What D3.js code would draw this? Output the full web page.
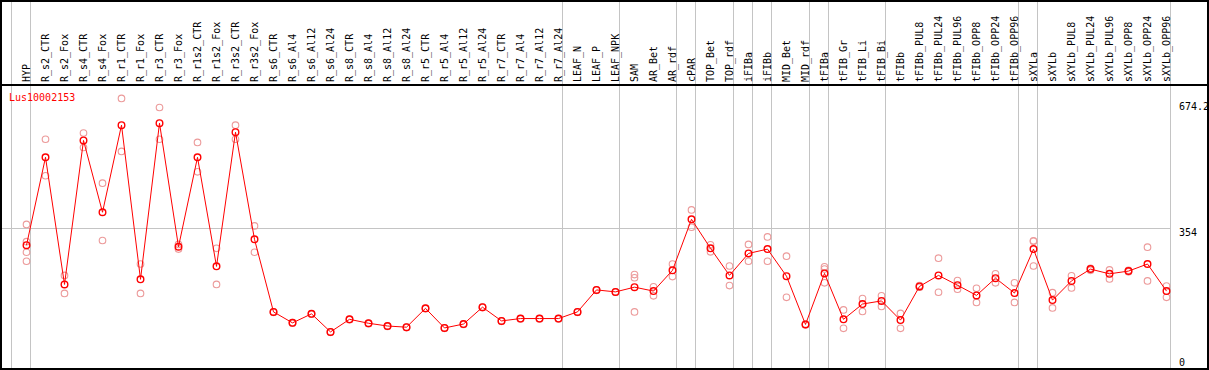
<!DOCTYPE html>
<html>
<head>
<meta charset="utf-8">
<script src="https://cdn.jsdelivr.net/npm/d3@7/dist/d3.min.js"></script>
<style>
  body { margin: 0; background: #fff; }
  text { font-family: "DejaVu Sans Mono", monospace; font-size: 10px; }
</style>
</head>
<body>
<div id="vis"></div>
<script>
//-- Data
var title = "Lus10002153";

var categories = ["HYP", "R_s2_CTR", "R_s2_Fox", "R_s4_CTR", "R_s4_Fox", "R_r1_CTR", "R_r1_Fox",
  "R_r3_CTR", "R_r3_Fox", "R_r1s2_CTR", "R_r1s2_Fox", "R_r3s2_CTR", "R_r3s2_Fox",
  "R_s6_CTR", "R_s6_Al4", "R_s6_Al12", "R_s6_Al24", "R_s8_CTR", "R_s8_Al4", "R_s8_Al12", "R_s8_Al24",
  "R_r5_CTR", "R_r5_Al4", "R_r5_Al12", "R_r5_Al24", "R_r7_CTR", "R_r7_Al4", "R_r7_Al12", "R_r7_Al24",
  "LEAF_N", "LEAF_P", "LEAF_NPK", "SAM", "AR_Bet", "AR_rdf", "cPAR", "TOP_Bet", "TOP_rdf",
  "iFIBa", "iFIBb", "MID_Bet", "MID_rdf", "tFIBa", "tFIB_Gr", "tFIB_Li", "tFIB_Bi",
  "tFIBb", "tFIBb_PUL8", "tFIBb_PUL24", "tFIBb_PUL96", "tFIBb_OPP8", "tFIBb_OPP24", "tFIBb_OPP96",
  "sXYLa", "sXYLb", "sXYLb_PUL8", "sXYLb_PUL24", "sXYLb_PUL96", "sXYLb_OPP8", "sXYLb_OPP24", "sXYLb_OPP96"];

// mean expression per sample
var means = [311, 535, 211, 578, 395, 617, 224, 622, 307, 535, 257, 599, 326,
  141, 113, 136, 90, 122, 112, 105, 102, 150, 100, 110, 153, 118, 124, 124, 124,
  141, 197, 192, 204, 194, 247, 377, 303, 234, 290, 301, 232, 109, 239, 122, 161, 169,
  120, 206, 234, 209, 183, 227, 189, 301, 171, 220, 250, 238, 245, 263, 194];

// individual replicates
var reps = [[364, 320, 293, 270], [581, 488], [234, 188], [597, 560], [469, 323], [685, 550], [263, 188],
  [662, 581], [313, 301], [573, 498], [303, 211], [617, 581], [360, 293],
  [141, 140], [114, 112], [136, 135], [90, 89], [122, 121], [112, 111], [105, 104], [102, 101],
  [150, 149], [100, 99], [110, 109], [153, 152], [118, 117], [124, 123], [124, 123], [124, 123],
  [141, 140], [197, 196], [192, 191], [236, 228, 141], [205, 182], [263, 231], [401, 357],
  [312, 294], [258, 208], [313, 270], [332, 270], [283, 178], [110, 108], [256, 250, 215],
  [146, 99], [175, 142], [182, 155], [137, 99], [208, 204], [278, 191], [221, 199], [201, 165],
  [238, 215], [215, 165], [321, 258, 322], [190, 151], [233, 202], [252, 247], [248, 225],
  [247, 243], [306, 220], [207, 178]];

var separatorsAfter = ["HYP", "R_r7_Al24", "LEAF_NPK", "AR_rdf", "cPAR", "TOP_rdf", "iFIBa",
  "iFIBb", "MID_rdf", "tFIBa", "tFIB_Bi", "tFIBb_OPP96", "sXYLa", "sXYLb_OPP96"];

var yTicks = [0, 354, 674.2];

//-- Setup
var width = 1209;
var height = 370;
var headerY = 85;

var svg = d3.select("#vis").append("svg")
  .attr("width", width)
  .attr("height", height);

var x = d3.scaleBand().domain(categories).range([11.3, 1170.3]);
var y = d3.scaleLinear().domain([0, 674.2]).range([367.2, 102.7]);

function px(c) { return x(c) + 15.2; }

// group separators (full height)
var sepX = [x(categories[0])].concat(separatorsAfter.map(function (c) { return x(c) + x.bandwidth(); }));
svg.selectAll("line.sep")
  .data(sepX)
  .enter().append("line")
  .attr("class", "sep")
  .attr("x1", function (d) { return Math.floor(d) + 0.5; })
  .attr("x2", function (d) { return Math.floor(d) + 0.5; })
  .attr("y1", 0)
  .attr("y2", height)
  .attr("stroke", "#c4c4c4")
  .attr("stroke-width", 1);

// horizontal grid line at middle tick
svg.append("line")
  .attr("x1", 1).attr("x2", 1170)
  .attr("y1", Math.round(y(yTicks[1])) + 0.5)
  .attr("y2", Math.round(y(yTicks[1])) + 0.5)
  .attr("stroke", "#c4c4c4");

// frame
svg.append("rect")
  .attr("x", 1).attr("y", 1)
  .attr("width", 1207).attr("height", 368)
  .attr("fill", "none")
  .attr("stroke", "#000")
  .attr("stroke-width", 2);

svg.append("line")
  .attr("x1", 0).attr("x2", width)
  .attr("y1", headerY).attr("y2", headerY)
  .attr("stroke", "#000")
  .attr("stroke-width", 2);

// category labels
svg.selectAll("text.cat")
  .data(categories)
  .enter().append("text")
  .attr("class", "cat")
  .attr("transform", function (d) { return "translate(" + (px(d) + 3) + "," + 82 + ") rotate(-90)"; })
  .attr("fill", "#000")
  .text(function (d) { return d; });

// y labels
svg.selectAll("text.ytick")
  .data(yTicks)
  .enter().append("text")
  .attr("class", "ytick")
  .attr("x", 1179)
  .attr("y", function (d) { return d === 0 ? 366 : y(d) + 7.5; })
  .text(function (d) { return d; });

// title
svg.append("text")
  .attr("x", 9)
  .attr("y", 101)
  .attr("fill", "#ff0000")
  .text(title);

// replicate points
var repPoints = [];
reps.forEach(function (r, i) {
  r.forEach(function (v) { repPoints.push({ c: categories[i], v: v }); });
});

svg.selectAll("circle.rep")
  .data(repPoints)
  .enter().append("circle")
  .attr("class", "rep")
  .attr("cx", function (d) { return px(d.c); })
  .attr("cy", function (d) { return y(d.v); })
  .attr("r", 3.3)
  .attr("fill", "none")
  .attr("stroke", "#ec9a9a")
  .attr("stroke-width", 1.1);

// mean line
var line = d3.line()
  .x(function (d, i) { return px(categories[i]); })
  .y(function (d) { return y(d); });

svg.append("path")
  .datum(means)
  .attr("d", line)
  .attr("fill", "none")
  .attr("stroke", "#ff0000")
  .attr("stroke-width", 1);

svg.selectAll("circle.mean")
  .data(means)
  .enter().append("circle")
  .attr("class", "mean")
  .attr("cx", function (d, i) { return px(categories[i]); })
  .attr("cy", function (d) { return y(d); })
  .attr("r", 3.3)
  .attr("fill", "none")
  .attr("stroke", "#ff0000")
  .attr("stroke-width", 1.4);
</script>
</body>
</html>
